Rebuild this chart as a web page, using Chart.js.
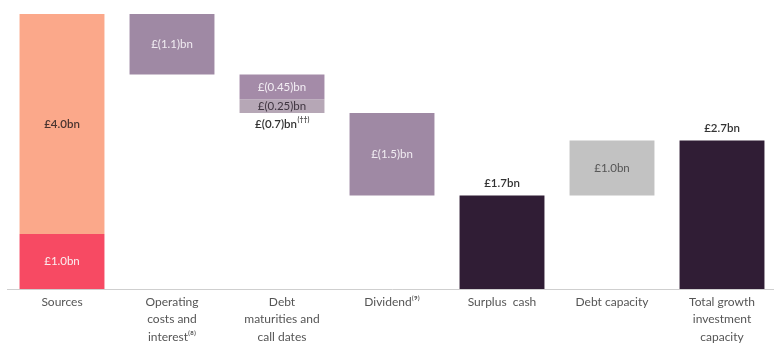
<!DOCTYPE html>
<html>
<head>
<meta charset="utf-8">
<script src="https://cdn.jsdelivr.net/npm/chart.js@4.4.0/dist/chart.umd.min.js"></script>
<style>
    html, body { margin: 0; padding: 0; background: #fff; overflow: hidden; }
    #wrap { position: relative; width: 777px; height: 343px; }
</style>
</head>
<body>
<div id="wrap"><canvas id="funding-chart"></canvas></div>
<script>
// Funding waterfall: sources less uses, plus debt headroom (£bn)

const categories = [
    ['Sources'],
    ['Operating', 'costs and', 'interest\u207D\u2078\u207E'],
    ['Debt', 'maturities and', 'call dates'],
    ['Dividend\u207D\u2079\u207E'],
    ['Surplus  cash'],
    ['Debt capacity'],
    ['Total growth', 'investment', 'capacity']
];

const sourceCash = 1.0;      // red base of the sources bar
const sourceOther = 4.0;     // salmon top of the sources bar
const operatingCosts = 1.1;
const debtMaturities = 0.45;
const callDates = 0.25;
const debtMaturityTotal = 0.7;
const dividend = 1.5;
const surplusCash = 1.7;
const debtCapacity = 1.0;
const totalCapacity = 2.7;

const FONT = 'Lato, "Open Sans", "DejaVu Sans", sans-serif';

// running level of the waterfall
const top0 = sourceCash + sourceOther;
const afterOps = top0 - operatingCosts;
const afterMat = afterOps - debtMaturities;
const afterCall = afterMat - callDates;
const afterDiv = afterCall - dividend;

function at(i, range) {
    const arr = categories.map(() => null);
    arr[i] = range;
    return arr;
}

const datasets = [
    { data: at(0, [0, sourceCash]), backgroundColor: '#f74a63' },
    { data: at(0, [sourceCash, top0]), backgroundColor: '#fba88a' },
    { data: at(1, [afterOps, top0]), backgroundColor: '#9f89a4' },
    { data: at(2, [afterMat, afterOps]), backgroundColor: '#a48ba8' },
    { data: at(2, [afterCall, afterMat]), backgroundColor: '#b6a7b6' },
    { data: at(3, [afterDiv, afterCall]), backgroundColor: '#9f89a4' },
    { data: at(4, [0, surplusCash]), backgroundColor: '#301d35' },
    { data: at(5, [surplusCash, surplusCash + debtCapacity]), backgroundColor: '#c2c2c2' },
    { data: at(6, [0, totalCapacity]), backgroundColor: '#301d35' }
].map(d => Object.assign(d, {
    grouped: false,
    barPercentage: 0.772,
    categoryPercentage: 1.0,
    borderWidth: 0
}));

// text placed on or beside the bars: [category, value, text, colour, pixel offset, weight]
const barLabels = [
    [0, sourceCash / 2, '£1.0bn', '#fbeff0', 0, '400'],
    [0, sourceCash + sourceOther / 2, '£4.0bn', '#4a3530', 0, '600'],
    [1, afterOps + operatingCosts / 2, '£(1.1)bn', '#f1ecf2', 0, '400'],
    [2, afterMat + debtMaturities / 2, '£(0.45)bn', '#f3eef4', 0, '400'],
    [2, afterCall + callDates / 2, '£(0.25)bn', '#3f3540', 0, '400'],
    [3, afterDiv + dividend / 2, '£(1.5)bn', '#f1ecf2', 0, '400'],
    [4, surplusCash, '£1.7bn', '#333', -12, '600'],
    [5, surplusCash + debtCapacity / 2, '£1.0bn', '#555', 0, '400'],
    [6, totalCapacity, '£2.7bn', '#333', -12, '600']
];

const labelPlugin = {
    id: 'barLabels',
    afterDatasetsDraw(chart) {
        const ctx = chart.ctx;
        const x = chart.scales.x;
        const y = chart.scales.y;
        ctx.save();
        ctx.textAlign = 'center';
        ctx.textBaseline = 'middle';
        barLabels.forEach(([i, v, text, color, dy, weight]) => {
            ctx.font = weight + ' 11.5px ' + FONT;
            ctx.fillStyle = color;
            ctx.fillText(text, x.getPixelForValue(i), y.getPixelForValue(v) + dy);
        });

        // combined debt figure under the maturities bar, with footnote mark
        const main = '£(' + debtMaturityTotal.toFixed(1) + ')bn';
        const note = '(††)';
        ctx.font = '600 11.5px ' + FONT;
        const w1 = ctx.measureText(main).width;
        ctx.font = '600 7px ' + FONT;
        const w2 = ctx.measureText(note).width;
        const cx = x.getPixelForValue(2);
        const cy = y.getPixelForValue(afterCall) + 11;
        const left = cx - (w1 + w2) / 2;
        ctx.textAlign = 'left';
        ctx.fillStyle = '#333';
        ctx.font = '600 11.5px ' + FONT;
        ctx.fillText(main, left, cy);
        ctx.font = '600 7px ' + FONT;
        ctx.fillText(note, left + w1 + 0.5, cy - 4);
        ctx.restore();
    }
};

new Chart(document.getElementById('funding-chart').getContext('2d'), {
    type: 'bar',
    data: { labels: categories, datasets: datasets },
    options: {
        responsive: true,
        maintainAspectRatio: false,
        animation: false,
        layout: { padding: { top: 14, left: 7, right: 0, bottom: 0 } },
        plugins: {
            legend: { display: false },
            tooltip: { enabled: false }
        },
        scales: {
            x: {
                grid: { display: false, drawTicks: false },
                border: { display: true, color: '#cfcfcf', width: 1 },
                ticks: {
                    color: '#555',
                    font: { family: FONT, size: 12, lineHeight: 1.46 },
                    padding: 4,
                    maxRotation: 0,
                    autoSkip: false
                },
                afterFit(scale) { scale.height = 54; }
            },
            y: {
                display: false,
                min: 0,
                max: 5.0
            }
        }
    },
    plugins: [labelPlugin]
});
</script>
</body>
</html>
